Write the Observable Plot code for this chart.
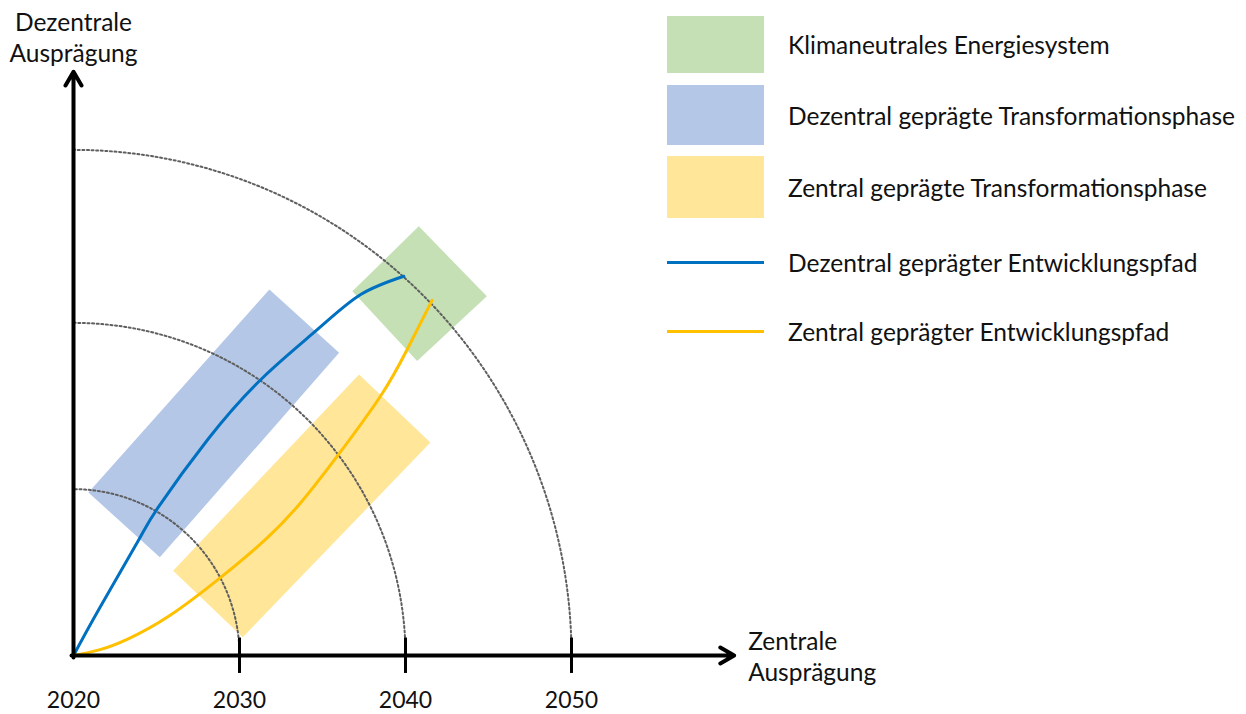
<!DOCTYPE html>
<html><head><meta charset="utf-8">
<script src="https://cdn.jsdelivr.net/npm/d3@7"></script>
<script src="https://cdn.jsdelivr.net/npm/@observablehq/plot@0.6"></script>
<style>
body{margin:0;background:#fff;font-family:Lato,"Noto Sans",sans-serif;}
#wrap{position:relative;width:1246px;height:714px;overflow:hidden;}
#legend{position:absolute;left:0;top:0;}
.item{position:absolute;left:667px;display:flex;align-items:center;}
.sw{width:97px;height:100%;}
.ln{width:97px;height:3px;}
.lab{position:absolute;left:121px;white-space:nowrap;font-size:24.5px;color:#111;}
</style></head>
<body><div id="wrap"><div id="chart"></div><div id="legend"></div></div>
<script>
// ---- data ----
const tickYears = [2020, 2030, 2040, 2050];
const tickLabels = ["2020", "2030", "2040", "2050"];
const arcYears = [2030, 2040, 2050];
const arcRadiusX = [10, 20, 30];
const arcRadiusY = [10, 20, 30.4];

// Dezentral geprägter Entwicklungspfad (blue)
const blueX = [2020, 2021.6, 2023.9, 2025.1, 2028.1, 2031.4, 2034.7, 2037.3, 2039.9];
const blueY = [0, 2.9, 6.9, 8.9, 13.0, 16.7, 19.6, 21.7, 22.8];
// Zentral geprägter Entwicklungspfad (yellow)
const yellowX = [2020, 2021.6, 2023.3, 2025.8, 2029.0, 2031.7, 2033.7, 2035.9, 2038.5, 2040.1, 2041.6];
const yellowY = [0, 0.35, 1.0, 2.4, 4.8, 7.1, 9.2, 12.0, 15.6, 18.4, 21.35];

// phase regions (corner points)
const regionNames = ["Klimaneutrales Energiesystem", "Dezentral geprägte Transformationsphase", "Zentral geprägte Transformationsphase"];
const regionColors = ["#c5e0b4", "#b4c7e7", "#ffe699"];
const regionX = [
  [2036.8, 2040.8, 2044.9, 2040.7],
  [2020.9, 2031.8, 2036.0, 2025.2],
  [2026.0, 2037.2, 2041.5, 2030.2]
];
const regionY = [
  [21.9, 25.8, 21.6, 17.7],
  [9.8, 22.0, 18.2, 5.9],
  [5.1, 16.9, 12.8, 1.1]
];
const lineNames = ["Dezentral geprägter Entwicklungspfad", "Zentral geprägter Entwicklungspfad"];
const lineColors = ["#0070c0", "#ffc000"];

const axisXEnd = 2059.8;
const axisYEnd = 35.1;

// ---- build tables ----
const regions = [];
regionNames.forEach((name, i) => {
  const n = regionX[i].length;
  for (let k = 0; k <= n; k++) regions.push({name, x: regionX[i][k % n], y: regionY[i][k % n], fill: regionColors[i]});
});
const blue = blueX.map((x, i) => ({x, y: blueY[i]}));
const yellow = yellowX.map((x, i) => ({x, y: yellowY[i]}));
const arcs = [];
arcYears.forEach((yr, i) => {
  for (let a = 0; a <= 90; a += 1) {
    const t = a * Math.PI / 180;
    arcs.push({yr, x: 2020 + arcRadiusX[i] * Math.cos(t), y: arcRadiusY[i] * Math.sin(t)});
  }
});
const ticks = tickYears.map((x, i) => ({x, label: tickLabels[i]}));

const chart = Plot.plot({
  width: 1246, height: 714, margin: 0,
  style: {fontFamily: "Lato, 'Noto Sans', sans-serif", background: "transparent"},
  x: {domain: [2020, 2050], range: [73, 571], axis: null},
  y: {domain: [0, 30], range: [655, 156], axis: null},
  marks: [
    Plot.line(regions, {x: "x", y: "y", z: "name", fill: "fill", stroke: null, curve: "linear"}),
    Plot.line(arcs, {x: "x", y: "y", z: "yr", stroke: "#5f5f5f", strokeWidth: 2, strokeDasharray: "2,2.6"}),
    Plot.line(blue, {x: "x", y: "y", stroke: lineColors[0], strokeWidth: 3, curve: "natural"}),
    Plot.line(yellow, {x: "x", y: "y", stroke: lineColors[1], strokeWidth: 3, curve: "natural"}),
    Plot.ruleX(tickYears.slice(1), {y1: -1.08, y2: 1.05, stroke: "black", strokeWidth: 3}),
    Plot.arrow([{x1: 2019.88, y1: 0, x2: axisXEnd, y2: 0}], {x1: "x1", y1: "y1", x2: "x2", y2: "y2", stroke: "black", strokeWidth: 4, headLength: 6, headAngle: 60}),
    Plot.arrow([{x1: 2020, y1: -0.12, x2: 2020, y2: axisYEnd}], {x1: "x1", y1: "y1", x2: "x2", y2: "y2", stroke: "black", strokeWidth: 4, headLength: 6, headAngle: 60}),
    Plot.text(ticks, {x: "x", y: 0, text: "label", dy: 45, fontSize: 23, fill: "#111"}),
    Plot.text(["Dezentrale\nAusprägung"], {x: 2020, y: axisYEnd, text: d => d, dy: -35, lineHeight: 1.25, fontSize: 24.5, fill: "#111"}),
    Plot.text(["Zentrale\nAusprägung"], {x: axisXEnd, y: 0, text: d => d, dx: 14, textAnchor: "start", lineHeight: 1.25, fontSize: 24.5, fill: "#111"})
  ]
});
document.getElementById("chart").appendChild(chart);

// ---- legend ----
const legendItems = [
  {label: regionNames[0], color: regionColors[0], type: "sw", top: 16, h: 57},
  {label: regionNames[1], color: regionColors[1], type: "sw", top: 85, h: 60},
  {label: regionNames[2], color: regionColors[2], type: "sw", top: 156, h: 62},
  {label: lineNames[0], color: lineColors[0], type: "ln", top: 247, h: 30},
  {label: lineNames[1], color: lineColors[1], type: "ln", top: 316, h: 30}
];
const leg = document.getElementById("legend");
legendItems.forEach(it => {
  const d = document.createElement("div");
  d.className = "item";
  d.style.top = it.top + "px";
  d.style.height = it.h + "px";
  const s = document.createElement("div");
  s.className = it.type;
  s.style.background = it.color;
  const l = document.createElement("span");
  l.className = "lab";
  l.textContent = it.label;
  d.appendChild(s); d.appendChild(l);
  leg.appendChild(d);
});
</script>
</body></html>
